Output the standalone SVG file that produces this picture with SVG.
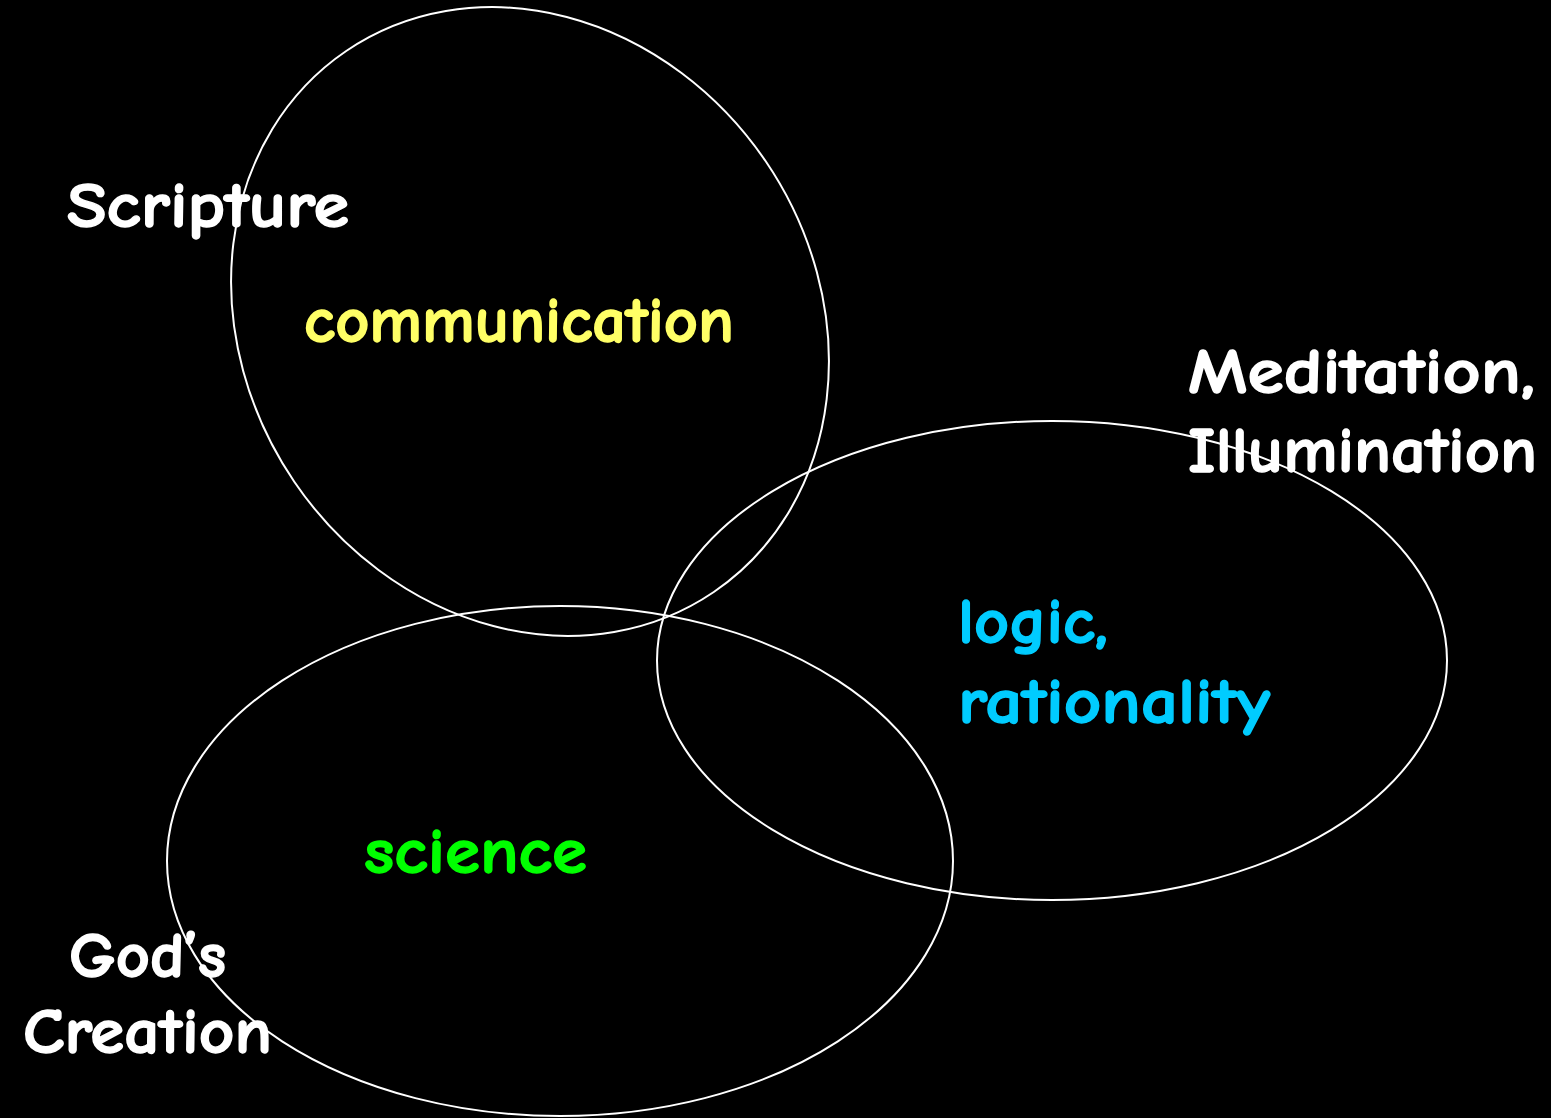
<svg xmlns="http://www.w3.org/2000/svg" width="1551" height="1118" viewBox="0 0 1551 1118">
  <style>
    .ring { fill: none; stroke: #ffffff; stroke-width: 2; }
    .lbl { font-family: "Comic Sans MS", "Comic Neue", "Open Sans", "DejaVu Sans", sans-serif; font-weight: bold; font-size: 65px; stroke-width: 1.4; stroke-linejoin: round; }
    .white { fill: #ffffff; stroke: #ffffff; }
    .yellow { fill: #ffff66; stroke: #ffff66; }
    .cyan { fill: #00ccff; stroke: #00ccff; }
    .green { fill: #00ff00; stroke: #00ff00; }
  </style>
  <rect x="0" y="0" width="1551" height="1118" fill="#000000"/>
  <g id="connectors"/>
  <g id="scripture">
    <ellipse class="ring" cx="530" cy="321.5" rx="285" ry="327" transform="rotate(-34.2 530 321.5)"/>
  </g>
  <g id="meditation">
    <ellipse class="ring" cx="1052" cy="660.5" rx="395" ry="239.5"/>
  </g>
  <g id="creation">
    <ellipse class="ring" cx="560" cy="861" rx="393" ry="255"/>
  </g>
  <g id="labels">
    <text class="lbl white" x="67" y="227" textLength="282" lengthAdjust="spacingAndGlyphs">Scripture</text>
    <text class="lbl yellow" x="304" y="342" textLength="430" lengthAdjust="spacingAndGlyphs">communication</text>
    <text class="lbl white" x="1188" y="393" textLength="347" lengthAdjust="spacingAndGlyphs">Meditation,</text>
    <text class="lbl white" x="1188" y="472" textLength="349" lengthAdjust="spacingAndGlyphs">Illumination</text>
    <text class="lbl cyan" x="958" y="643" textLength="150" lengthAdjust="spacingAndGlyphs">logic,</text>
    <text class="lbl cyan" x="958" y="723" textLength="312" lengthAdjust="spacingAndGlyphs">rationality</text>
    <text class="lbl green" x="364" y="873" textLength="223" lengthAdjust="spacingAndGlyphs">science</text>
    <text class="lbl white" x="69" y="977" textLength="157" lengthAdjust="spacingAndGlyphs">God’s</text>
    <text class="lbl white" x="23" y="1053" textLength="249" lengthAdjust="spacingAndGlyphs">Creation</text>
  </g>
</svg>
